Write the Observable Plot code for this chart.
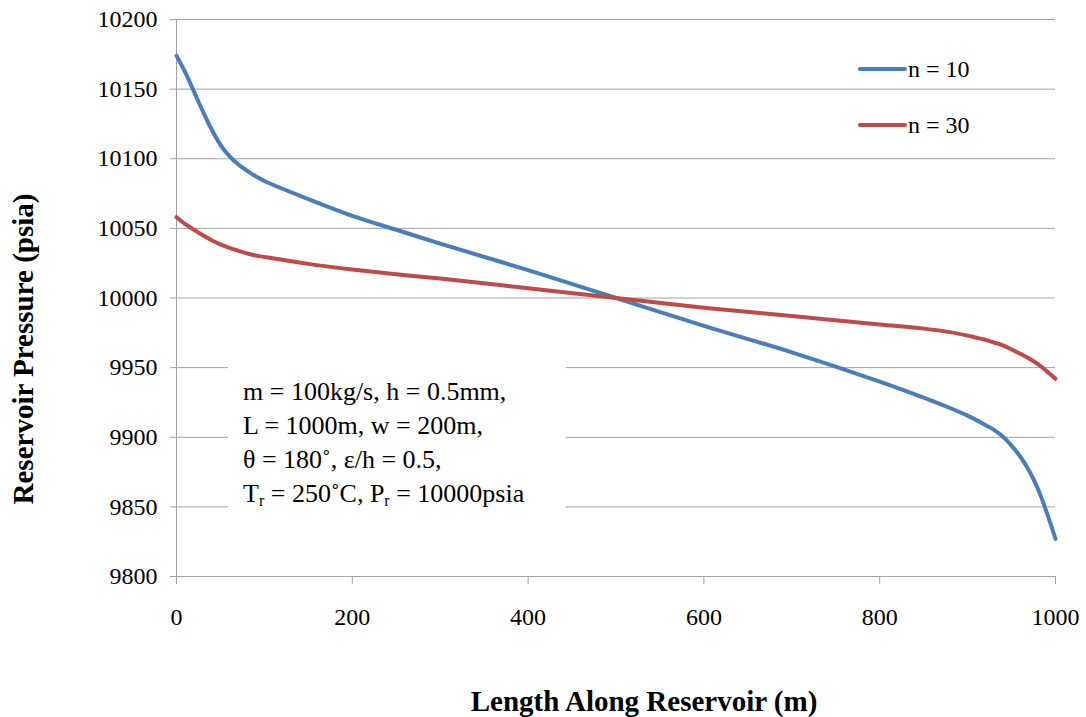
<!DOCTYPE html>
<html><head><meta charset="utf-8">
<script src="https://cdn.jsdelivr.net/npm/d3@7"></script>
<script src="https://cdn.jsdelivr.net/npm/@observablehq/plot@0.6"></script>
<style>
body{margin:0;background:#fff;}
#wrap{position:relative;width:1086px;height:717px;font-family:"Liberation Serif","Times New Roman",serif;color:#000;overflow:hidden;}
#wrap *{font-family:"Liberation Serif","Times New Roman",serif !important;}
#wrap svg{position:absolute;left:0;top:0;}
#wrap svg text{font-family:"Liberation Serif","Times New Roman",serif !important;font-variant:normal !important;}
.note{position:absolute;left:228px;top:357px;width:323px;height:170px;background:#fff;padding:18px 0 0 15px;font-size:26px;line-height:34px;white-space:nowrap;}
.note sub{font-size:16px;vertical-align:-4px;line-height:0;}
.leg{position:absolute;left:858px;width:49px;height:4px;border-radius:2px;}
.legt{position:absolute;left:908px;font-size:24px;line-height:24px;}
.xt{position:absolute;left:44px;width:1200px;text-align:center;top:687px;font-size:29px;font-weight:bold;line-height:29px;white-space:nowrap;}
.yt{position:absolute;left:23px;top:349px;font-size:29px;font-weight:bold;line-height:29px;white-space:nowrap;transform:translate(-50%,-50%) rotate(-90deg);}
</style></head><body><div id="wrap"></div>
<script>
const lengthM = [0,10,20,30,40,50,60,70,80,90,100,150,200,250,300,400,500,600,700,800,850,880,900,910,920,930,940,950,960,970,980,990,1000];
const pressureN10 = [10174,10162,10148,10134,10121,10110,10102,10096,10091.5,10087.5,10084,10071,10059,10049,10039,10020,10000,9980,9961,9940,9928.5,9921,9915.5,9912.3,9908.8,9905.3,9900.5,9894,9886,9876,9863,9846,9827];
const pressureN30 = [10058,10053,10049,10045,10041.5,10038.5,10036,10034,10032,10030.5,10029.5,10024.5,10020.5,10017,10014,10007,10000,9993,9987,9981,9978,9975.5,9973,9971.5,9970,9968,9966,9963,9960,9956.5,9952.5,9947.5,9942];
const seriesNames = ["n = 10","n = 30"];
const seriesColors = ["#4A7EBB","#BE4B48"];
const yTicks = [9800,9850,9900,9950,10000,10050,10100,10150,10200];
const xTicks = [0,200,400,600,800,1000];

const rows = [];
lengthM.forEach((x,i)=>{
  rows.push({x, p:pressureN10[i], s:seriesNames[0]});
  rows.push({x, p:pressureN30[i], s:seriesNames[1]});
});

const grid = "#a3a3a3";
const chart = Plot.plot({
  width:1086, height:717,
  marginLeft:176, marginRight:31, marginTop:19, marginBottom:141,
  style:{fontFamily:"Liberation Serif", background:"transparent", color:"#000", overflow:"visible"},
  x:{domain:[0,1000]},
  y:{domain:[9800,10200]},
  color:{domain:seriesNames, range:seriesColors},
  marks:[
    Plot.gridY(yTicks,{stroke:grid, strokeOpacity:1, strokeWidth:1}),
    Plot.axisY(yTicks,{tickSize:6, tickPadding:13, stroke:grid, fontSize:24, label:null, tickFormat:d=>String(d)}),
    Plot.axisX(xTicks,{tickSize:8, tickPadding:23, stroke:grid, fontSize:24, label:null, tickFormat:d=>String(d)}),
    Plot.ruleX([0],{stroke:grid}),
    Plot.ruleY([9800],{stroke:grid}),
    Plot.line(rows,{x:"x", y:"p", stroke:"s", z:"s", curve:"catmull-rom", strokeWidth:4})
  ]
});
const wrap = document.getElementById("wrap");
wrap.appendChild(chart);

// legend
const legY = [69,125];
seriesNames.forEach((n,i)=>{
  const l = document.createElement("div");
  l.className="leg"; l.style.top=(legY[i]-2)+"px"; l.style.background=seriesColors[i];
  wrap.appendChild(l);
  const t = document.createElement("div");
  t.className="legt"; t.style.top=(legY[i]-12)+"px"; t.textContent=n;
  wrap.appendChild(t);
});

// annotation
const note = document.createElement("div");
note.className="note";
note.innerHTML = "m = 100kg/s, h = 0.5mm,<br>L = 1000m, w = 200m,<br>θ = 180˚, ε/h = 0.5,<br>T<sub>r</sub> = 250˚C, P<sub>r</sub> = 10000psia";
wrap.appendChild(note);

// axis titles
const xt = document.createElement("div");
xt.className="xt"; xt.textContent="Length Along Reservoir (m)";
wrap.appendChild(xt);
const yt = document.createElement("div");
yt.className="yt"; yt.textContent="Reservoir Pressure (psia)";
wrap.appendChild(yt);
</script>
</body></html>
